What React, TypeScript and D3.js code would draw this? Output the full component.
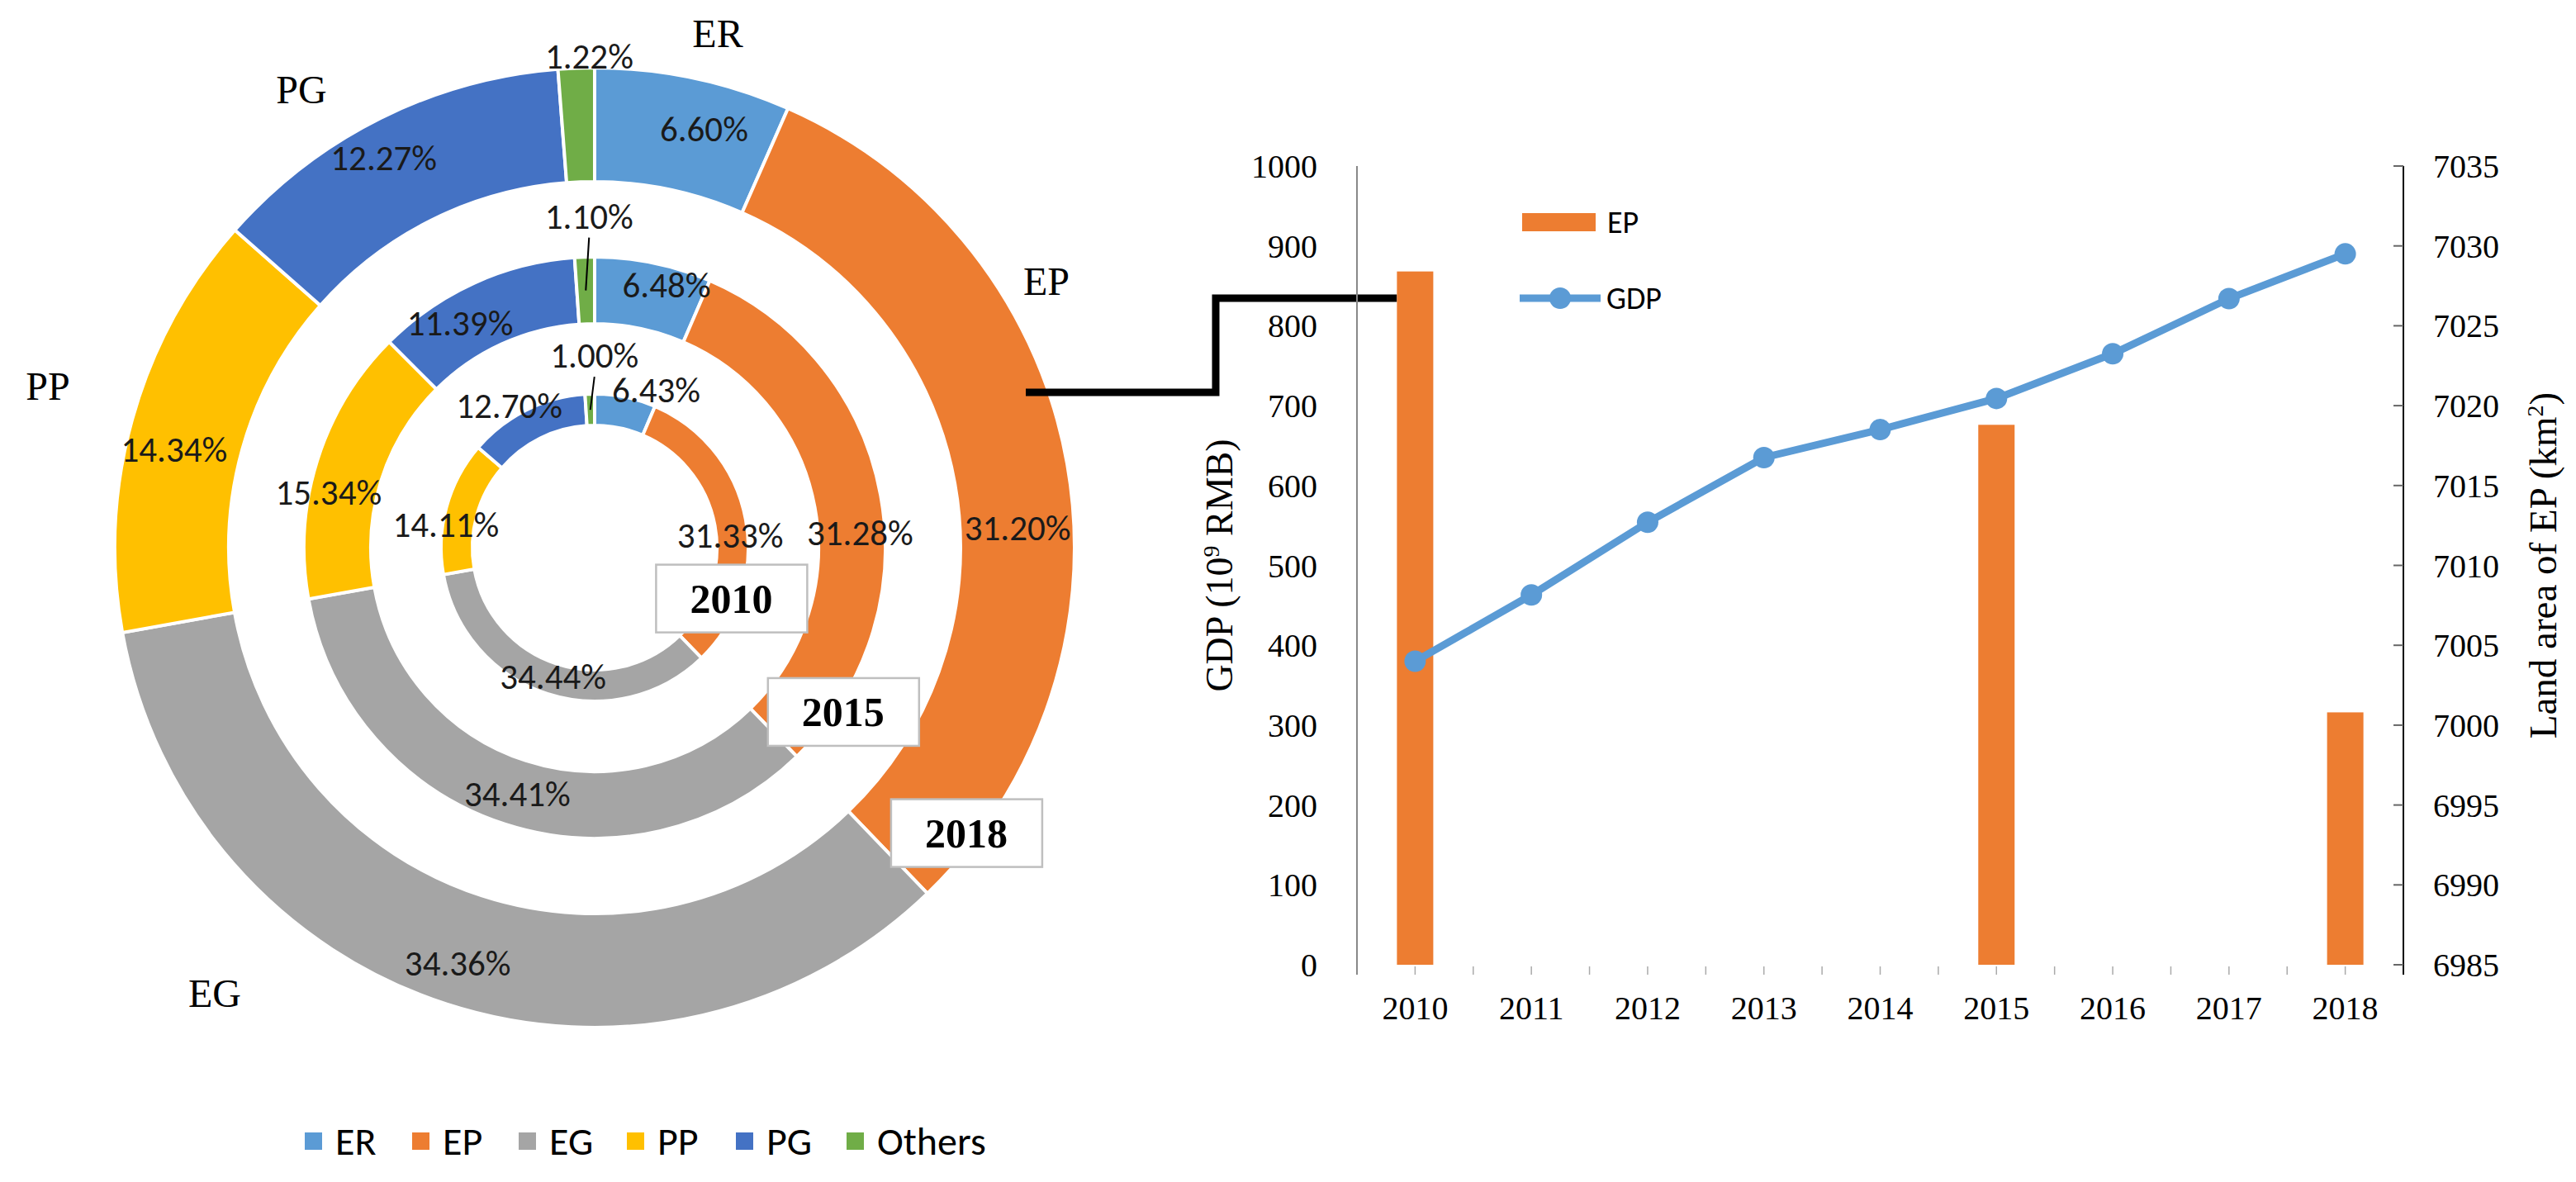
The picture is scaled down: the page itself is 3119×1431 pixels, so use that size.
import React from "react";
import * as d3 from "d3";

// ---- data ----
const categories = ["ER", "EP", "EG", "PP", "PG", "Others"];
const ringYears = ["2010", "2015", "2018"];
const share2010 = [6.43, 31.33, 34.44, 14.11, 12.7, 1.0];
const share2015 = [6.48, 31.28, 34.41, 15.34, 11.39, 1.1];
const share2018 = [6.6, 31.2, 34.36, 14.34, 12.27, 1.22];

const years = ["2010", "2011", "2012", "2013", "2014", "2015", "2016", "2017", "2018"];
const gdp = [380, 463, 554, 635, 670, 709, 765, 834, 890];
const epYears = ["2010", "2015", "2018"];
const epArea = [7028.4, 7018.8, 7000.8];
const gdpTicks = [0, 100, 200, 300, 400, 500, 600, 700, 800, 900, 1000];
const areaTicks = [6985, 6990, 6995, 7000, 7005, 7010, 7015, 7020, 7025, 7030, 7035];

// ---- styles / layout ----
const W = 3119;
const H = 1431;
const colors = ["#5B9BD5", "#ED7D31", "#A5A5A5", "#FFC000", "#4472C4", "#70AD47"];
const serif = "'Times New Roman', 'Liberation Serif', serif";
const sans = "Carlito, Calibri, Lato, sans-serif";

const cx = 720;
const cy = 663;
const rings = [
    {inner: 148, outer: 186},
    {inner: 271, outer: 352},
    {inner: 443, outer: 581}
];
// label nudges from arc centroid, per ring, per category
const nudges = [
    [[41, -27], [0, 15], [1, -3], [-19, 16], [-29, -23], [5, -66]],
    [[24, -13], [15, 38], [2, 1], [-25, 26], [-34, 11], [4, -90]],
    [[27, -6], [8, 65], [-8, 16], [-16, 19], [-27, -14], [13, -83]]
];
const yearBoxOffset = [[36, -72], [56, -54], [47, -73]];
const catLabelPos = [[149, -623], [547, -323], [-460, 539], [-662, -196], [-355, -555]];
const legendX = [369, 499, 628, 759, 891, 1025];

const plot = {left: 1643, right: 2910, top: 201, bottom: 1168};

const App: React.FC = () => {
    const shares = [share2010, share2015, share2018];
    const pie = d3.pie<number>().sort(null).value(d => d);
    const fmt = d3.format(".2f");

    const xScale = d3.scaleBand<string>().domain(years).range([plot.left, plot.right]).padding(0);
    const yLeft = d3.scaleLinear().domain([0, 1000]).range([plot.bottom, plot.top]);
    const yRight = d3.scaleLinear().domain([6985, 7035]).range([plot.bottom, plot.top]);
    const cxOf = (y: string) => (xScale(y) ?? 0) + xScale.bandwidth() / 2;
    const barW = 44;

    const gdpLine = d3.line<number>()
        .x((_, i) => cxOf(years[i]))
        .y(d => yLeft(d));

    const bar2010Left = cxOf(epYears[0]) - barW / 2;
    const connector = [[1242, 475], [1472, 475], [1472, 361], [bar2010Left, 361]];

    return (
        <svg width={W} height={H} style={{position: "absolute", left: 0, top: 0, background: "#fff"}}>
            <rect x={0} y={0} width={W} height={H} fill="#fff"/>
            {/* doughnut rings */}
            <g transform={`translate(${cx},${cy})`}>
                {shares.map((vals, ri) => {
                    const arc = d3.arc<d3.PieArcDatum<number>>()
                        .innerRadius(rings[ri].inner)
                        .outerRadius(rings[ri].outer);
                    return (
                        <g key={ri}>
                            {pie(vals).map((a, i) => (
                                <path key={i} d={arc(a) ?? ""} fill={colors[i]} stroke="#fff" strokeWidth={4}/>
                            ))}
                        </g>
                    );
                })}
                {shares.map((vals, ri) => {
                    const arc = d3.arc<d3.PieArcDatum<number>>()
                        .innerRadius(rings[ri].inner)
                        .outerRadius(rings[ri].outer);
                    return (
                        <g key={"l" + ri}>
                            {pie(vals).map((a, i) => {
                                const [px, py] = arc.centroid(a);
                                const lx = px + nudges[ri][i][0];
                                const ly = py + nudges[ri][i][1];
                                const leader = i === 5 && ri < 2;
                                return (
                                    <g key={i}>
                                        {leader && (
                                            <line x1={lx} y1={ly + 26} x2={px} y2={py}
                                                  stroke="#000" strokeWidth={2}/>
                                        )}
                                        <text x={lx} y={ly} dy="0.35em" textAnchor="middle"
                                              fontFamily={sans} fontSize={43} fill="#1a1a1a">
                                            {fmt(a.data) + "%"}
                                        </text>
                                    </g>
                                );
                            })}
                        </g>
                    );
                })}
                {/* year boxes at the EP / EG boundary */}
                {shares.map((vals, ri) => {
                    const ang = ((vals[0] + vals[1]) / d3.sum(vals)) * 2 * Math.PI;
                    const r = rings[ri].outer;
                    const bx = r * Math.sin(ang) + yearBoxOffset[ri][0];
                    const by = -r * Math.cos(ang) + yearBoxOffset[ri][1];
                    return (
                        <g key={"y" + ri}>
                            <rect x={bx - 91} y={by - 41} width={183} height={82} fill="#fff"
                                  stroke="#BFBFBF" strokeWidth={2.5}/>
                            <text x={bx} y={by} dy="0.35em" textAnchor="middle" fontFamily={serif}
                                  fontWeight="bold" fontSize={50} fill="#000">{ringYears[ri]}</text>
                        </g>
                    );
                })}
                {catLabelPos.map((p, i) => (
                    <text key={"c" + i} x={p[0]} y={p[1]} dy="0.35em" textAnchor="middle"
                          fontFamily={serif} fontSize={48} fill="#000">{categories[i]}</text>
                ))}
            </g>

            {/* bottom legend */}
            {categories.map((c, i) => (
                <g key={"lg" + i}>
                    <rect x={legendX[i]} y={1371} width={21} height={21} fill={colors[i]}/>
                    <text x={legendX[i] + 37} y={1381} dy="0.35em" fontFamily={sans} fontSize={48}
                          fill="#000">{c}</text>
                </g>
            ))}

            {/* connector */}
            <polyline points={connector.map(p => p.join(",")).join(" ")} fill="none" stroke="#000"
                      strokeWidth={9}/>

            {/* right chart axes */}
            <line x1={plot.left} x2={plot.left} y1={plot.top} y2={plot.bottom + 12} stroke="#888" strokeWidth={2}/>
            <line x1={plot.right} x2={plot.right} y1={plot.top} y2={plot.bottom + 12} stroke="#000" strokeWidth={2}/>
            {gdpTicks.map(t => (
                <text key={"gl" + t} x={1595} y={yLeft(t)} dy="0.35em" textAnchor="end"
                      fontFamily={serif} fontSize={40} fill="#000">{t}</text>
            ))}
            {areaTicks.map(t => (
                <g key={"ar" + t}>
                    <line x1={plot.right - 12} x2={plot.right} y1={yRight(t)} y2={yRight(t)} stroke="#666"
                          strokeWidth={2}/>
                    <text x={2946} y={yRight(t)} dy="0.35em" textAnchor="start"
                          fontFamily={serif} fontSize={40} fill="#000">{t}</text>
                </g>
            ))}
            {years.map((y, i) => (
                <g key={"x" + y}>
                    <line x1={cxOf(y)} x2={cxOf(y)} y1={plot.bottom + 2} y2={plot.bottom + 12} stroke="#aaa"
                          strokeWidth={1.5}/>
                    {i > 0 && (
                        <line x1={xScale(y)} x2={xScale(y)} y1={plot.bottom + 2} y2={plot.bottom + 12}
                              stroke="#aaa" strokeWidth={1.5}/>
                    )}
                    <text x={cxOf(y)} y={1220} dy="0.35em" textAnchor="middle" fontFamily={serif}
                          fontSize={40} fill="#000">{y}</text>
                </g>
            ))}

            {/* bars on secondary axis */}
            {epYears.map((y, i) => (
                <rect key={"b" + y} x={cxOf(y) - barW / 2} y={yRight(epArea[i])} width={barW}
                      height={plot.bottom - yRight(epArea[i])} fill="#ED7D31"/>
            ))}

            {/* GDP line */}
            <path d={gdpLine(gdp) ?? ""} fill="none" stroke="#5B9BD5" strokeWidth={9}/>
            {gdp.map((v, i) => (
                <circle key={"p" + i} cx={cxOf(years[i])} cy={yLeft(v)} r={13} fill="#5B9BD5"/>
            ))}

            {/* axis titles */}
            <text transform={`translate(1476,${(plot.top + plot.bottom) / 2}) rotate(-90)`} dy="0.35em"
                  textAnchor="middle" fontFamily={serif} fontSize={46} fill="#000">
                GDP (10<tspan dy={-16} fontSize={28}>9</tspan><tspan dy={16}> RMB)</tspan>
            </text>
            <text transform={`translate(3079,${(plot.top + plot.bottom) / 2}) rotate(-90)`} dy="0.35em"
                  textAnchor="middle" fontFamily={serif} fontSize={47} fill="#000">
                Land area of EP (km<tspan dy={-16} fontSize={28}>2</tspan><tspan dy={16}>)</tspan>
            </text>

            {/* chart legend */}
            <rect x={1843} y={258} width={89} height={22} fill="#ED7D31"/>
            <text x={1946} y={269} dy="0.35em" fontFamily={sans} fontSize={38} fill="#000">EP</text>
            <line x1={1840} x2={1938} y1={361} y2={361} stroke="#5B9BD5" strokeWidth={9}/>
            <circle cx={1889} cy={361} r={13} fill="#5B9BD5"/>
            <text x={1945} y={361} dy="0.35em" fontFamily={sans} fontSize={38} fill="#000">GDP</text>
        </svg>
    );
};

export default App;
